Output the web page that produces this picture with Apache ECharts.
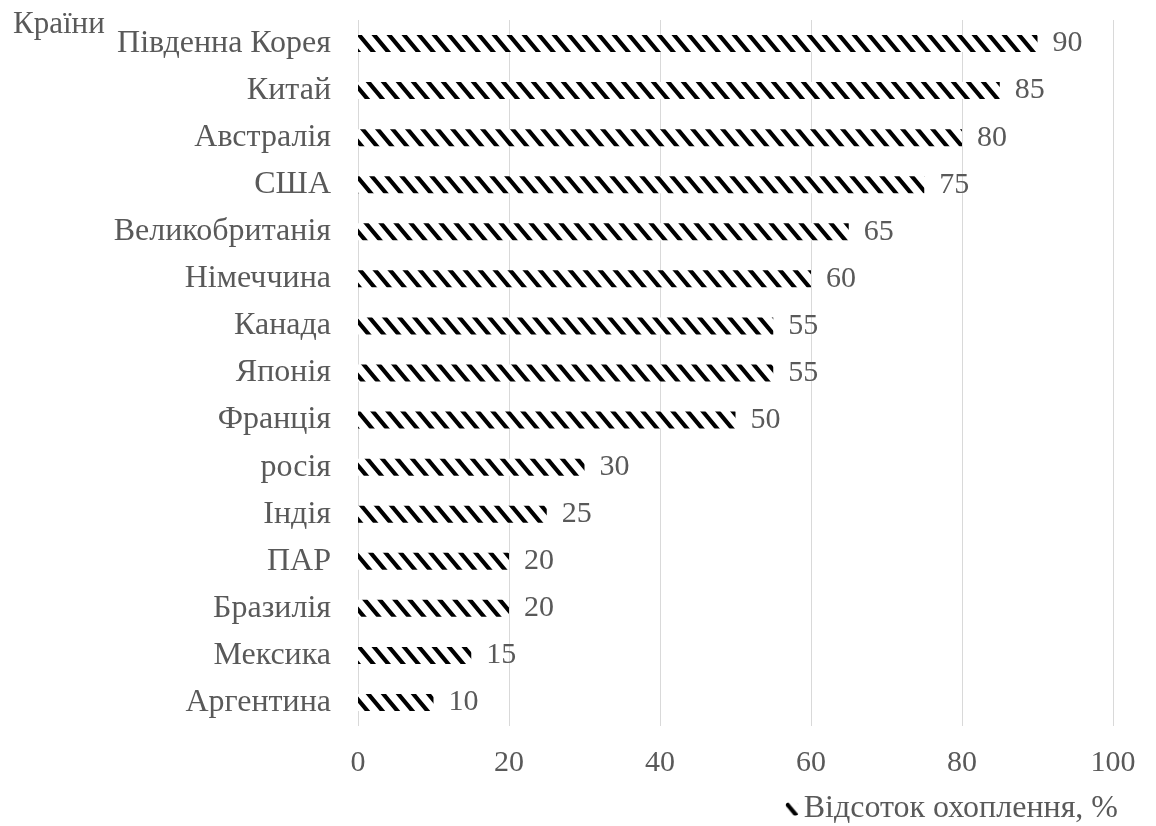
<!DOCTYPE html>
<html>
<head>
<meta charset="utf-8">
<script src="https://cdn.jsdelivr.net/npm/echarts@6/dist/echarts.min.js"></script>
<style>
  html, body { margin: 0; padding: 0; background: #fff; }
  #chart { width: 1156px; height: 826px; }
</style>
</head>
<body>
<div id="chart"></div>
<script>
// countries from top to bottom
const countries = ['Південна Корея', 'Китай', 'Австралія', 'США', 'Великобританія', 'Німеччина',
  'Канада', 'Японія', 'Франція', 'росія', 'Індія', 'ПАР', 'Бразилія', 'Мексика', 'Аргентина']
const coverage = [90, 85, 80, 75, 65, 60, 55, 55, 50, 30, 25, 20, 20, 15, 10]
const seriesName = 'Відсоток охоплення, %'

const textColor = '#595959'
const font = 'Liberation Serif'

// "\" hatch like the original, tile repeats seamlessly
const makeHatch = () => {
  const w = 15
  const h = 18
  const c = document.createElement('canvas')
  c.width = w
  c.height = h
  const ctx = c.getContext('2d')
  ctx.fillStyle = '#fff'
  ctx.fillRect(0, 0, w, h)
  ctx.strokeStyle = '#000'
  ctx.lineWidth = 4.2
  ctx.beginPath()
  for (let k = -2; k <= 2; k++) {
    ctx.moveTo(k * w - w, -h)
    ctx.lineTo(k * w + 2 * w, 2 * h)
  }
  ctx.stroke()
  return c
}

const myChart = echarts.init(document.getElementById('chart'), null, { renderer: 'canvas' })

myChart.setOption({
  animation: false,
  textStyle: { fontFamily: font },
  title: {
    text: 'Країни',
    left: 8,
    top: 4,
    textStyle: { fontFamily: font, fontWeight: 'normal', fontSize: 31, color: textColor },
  },
  legend: {
    data: [seriesName],
    right: 33,
    top: 788,
    itemWidth: 13,
    itemHeight: 13,
    itemGap: 4,
    textStyle: { fontFamily: font, fontSize: 32, color: textColor },
  },
  grid: { left: 358, right: 43, top: 20, bottom: 100 },
  xAxis: {
    type: 'value',
    min: 0,
    max: 100,
    interval: 20,
    axisLine: { show: false },
    axisTick: { show: false },
    splitLine: { lineStyle: { color: '#d9d9d9', width: 1 } },
    axisLabel: { fontFamily: font, fontSize: 30, color: textColor, margin: 22 },
  },
  yAxis: {
    type: 'category',
    inverse: true,
    data: countries,
    axisLine: { show: false },
    axisTick: { show: false },
    axisLabel: { fontFamily: font, fontSize: 32, color: textColor, margin: 27 },
  },
  series: [
    {
      name: seriesName,
      type: 'bar',
      data: coverage,
      barWidth: 17,
      itemStyle: { color: { image: makeHatch(), repeat: 'repeat' } },
      label: {
        show: true,
        position: 'right',
        distance: 15,
        fontFamily: font,
        fontSize: 30,
        color: textColor,
      },
    },
  ],
})
</script>
</body>
</html>
